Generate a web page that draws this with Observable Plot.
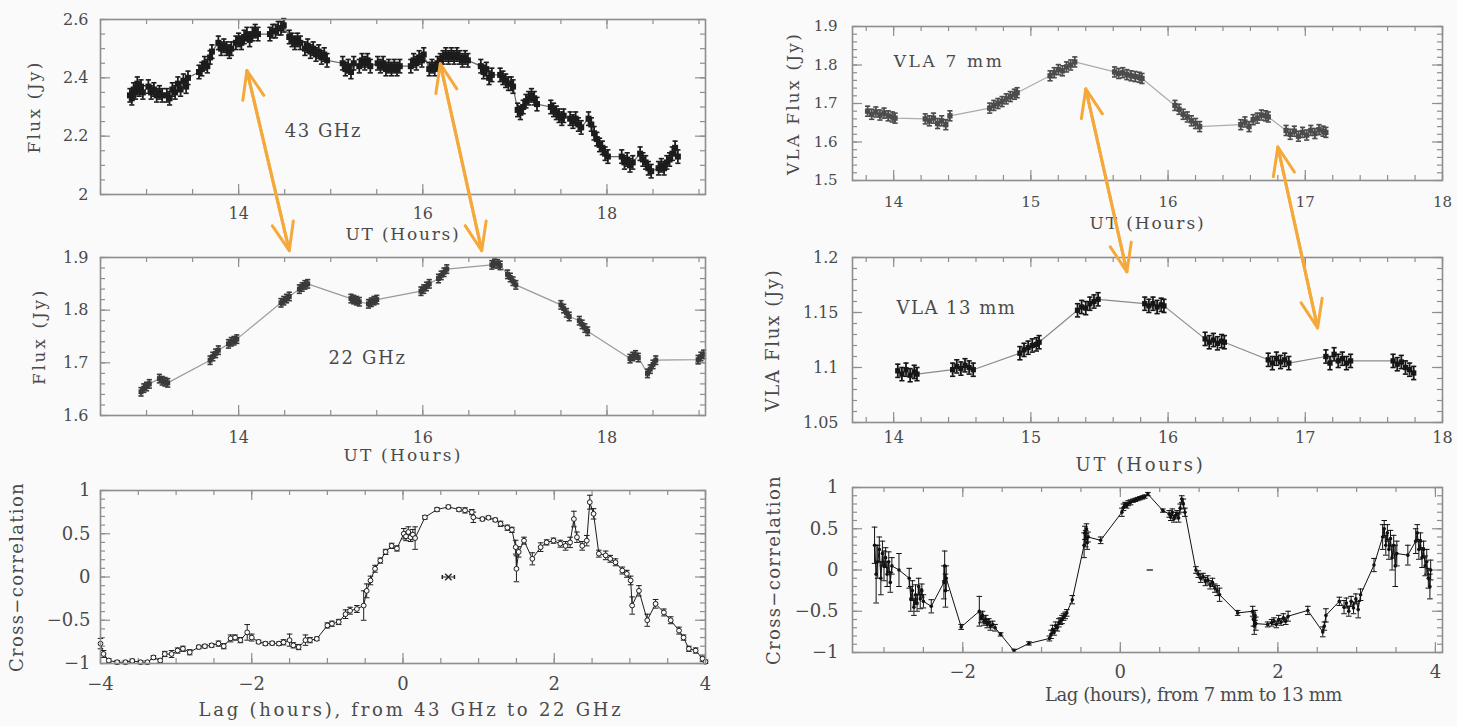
<!DOCTYPE html>
<html><head><meta charset="utf-8">
<script src="https://cdn.jsdelivr.net/npm/d3@7"></script>
<script src="https://cdn.jsdelivr.net/npm/@observablehq/plot@0.6"></script>
<style>
html,body{margin:0;padding:0;background:#fafafa;overflow:hidden;}
#page{position:relative;width:1457px;height:726px;overflow:hidden;background:#fafafa;}
.panel{position:absolute;}
.panel svg{display:block;}
</style></head><body><div id="page"></div>
<script>
// ---------- 43 GHz light curve ----------
const ut43 = [12.82,12.84,12.86,12.88,12.90,12.92,12.94,12.96,
13.02,13.05,13.08,13.11,13.14,13.17,
13.22,13.25,13.28,13.31,13.34,13.37,13.40,13.43,13.45,
13.57,13.60,13.63,13.66,13.69,13.71,
13.78,13.81,13.84,13.87,13.90,13.92,
13.97,14.00,14.03,14.06,14.09,14.12,14.15,14.18,14.21,
14.34,14.37,14.40,14.43,14.46,14.49,
14.55,14.58,14.61,14.64,14.67,
14.72,14.75,14.78,14.81,14.84,14.87,14.90,14.93,14.96,
15.13,15.16,15.19,15.22,15.25,
15.31,15.34,15.37,15.40,15.43,
15.51,15.54,15.57,15.60,15.63,15.66,15.69,15.72,15.75,
15.87,15.90,15.93,15.96,15.99,16.01,
16.07,16.10,16.13,16.16,16.19,16.22,
16.25,16.28,16.31,16.34,16.37,16.40,16.43,16.46,16.49,
16.63,16.66,16.69,16.72,16.75,
16.84,16.87,16.90,16.93,16.96,16.98,
17.03,17.06,17.09,17.12,17.15,17.18,17.21,17.24,
17.39,17.42,17.45,17.48,17.51,17.53,
17.60,17.63,17.66,17.69,17.72,
17.80,17.83,17.86,17.89,17.92,17.95,17.98,18.01,
18.16,18.19,18.22,18.25,18.28,
18.36,18.39,18.42,18.45,18.48,
18.56,18.59,18.62,18.65,18.68,18.71,18.74,18.77];
const flux43 = [2.34,2.33,2.36,2.35,2.38,2.36,2.37,2.35,
2.37,2.35,2.36,2.34,2.35,2.34,
2.34,2.33,2.36,2.35,2.38,2.36,2.39,2.37,2.40,
2.42,2.43,2.45,2.44,2.47,2.49,
2.52,2.50,2.51,2.50,2.49,2.50,
2.52,2.53,2.52,2.54,2.55,2.53,2.55,2.56,2.55,
2.55,2.56,2.56,2.57,2.57,2.58,
2.54,2.53,2.52,2.53,2.52,
2.50,2.51,2.49,2.50,2.48,2.49,2.47,2.48,2.46,
2.45,2.43,2.44,2.42,2.45,
2.44,2.46,2.45,2.46,2.44,
2.45,2.44,2.45,2.43,2.44,2.43,2.44,2.43,2.44,
2.44,2.46,2.45,2.47,2.46,2.48,
2.43,2.44,2.43,2.45,2.46,2.47,
2.48,2.47,2.48,2.47,2.48,2.47,2.46,2.47,2.46,
2.44,2.42,2.43,2.40,2.41,
2.41,2.40,2.39,2.38,2.38,2.37,
2.29,2.28,2.30,2.32,2.33,2.34,2.33,2.31,
2.30,2.29,2.28,2.27,2.26,2.27,
2.26,2.25,2.26,2.24,2.23,
2.26,2.24,2.21,2.19,2.17,2.16,2.14,2.13,
2.13,2.11,2.12,2.10,2.11,
2.14,2.12,2.11,2.09,2.08,
2.09,2.10,2.09,2.11,2.12,2.14,2.16,2.13];
const flux43Err = 0.023;

// ---------- 22 GHz light curve ----------
const ut22 = [12.94,12.97,13.00,13.03, 13.14,13.17,13.20,13.23, 13.69,13.72,13.75,13.78, 13.89,13.92,13.95,13.98,
14.46,14.49,14.52,14.55, 14.66,14.69,14.72,14.75, 15.22,15.25,15.28,15.31, 15.41,15.44,15.47,15.50,
15.98,16.01,16.04,16.07, 16.17,16.20,16.23,16.26, 16.75,16.78,16.81,16.84, 16.92,16.95,16.98,17.01,
17.50,17.53,17.56,17.59, 17.70,17.73,17.76,17.79, 18.25,18.28,18.31,18.34, 18.44,18.47,18.50,18.53,
18.99,19.02,19.05];
const flux22 = [1.645,1.652,1.655,1.660, 1.670,1.666,1.664,1.662, 1.705,1.712,1.718,1.724, 1.736,1.740,1.742,1.745,
1.814,1.818,1.822,1.826, 1.840,1.844,1.848,1.850, 1.822,1.820,1.818,1.816, 1.812,1.815,1.818,1.820,
1.836,1.840,1.845,1.850, 1.860,1.866,1.872,1.878, 1.886,1.889,1.888,1.885, 1.868,1.862,1.855,1.848,
1.810,1.803,1.795,1.788, 1.780,1.773,1.766,1.760, 1.708,1.712,1.715,1.710, 1.680,1.688,1.697,1.705,
1.706,1.712,1.716];
const flux22Err = 0.008;

// ---------- cross-correlation 43 -> 22 GHz ----------
const lag43 = [-4.00,-3.96,-3.89,-3.78,-3.67,-3.58,-3.47,-3.38,-3.30,-3.21,-3.15,-3.06,-2.98,-2.91,-2.82,-2.70,-2.62,-2.53,-2.44,-2.37,-2.28,-2.22,-2.15,-2.06,-2.00,-1.91,-1.82,-1.73,-1.64,-1.58,-1.50,-1.45,-1.38,-1.29,-1.23,-1.14,-1.00,-0.94,-0.85,-0.76,-0.70,-0.61,-0.52,-0.48,-0.43,-0.37,-0.30,-0.23,-0.15,-0.08,0.01,0.04,0.07,0.10,0.13,0.16,0.29,0.45,0.60,0.74,0.82,0.91,0.93,1.05,1.13,1.22,1.29,1.38,1.44,1.49,1.50,1.53,1.60,1.71,1.82,1.90,1.99,2.08,2.15,2.21,2.26,2.30,2.37,2.43,2.47,2.52,2.59,2.68,2.74,2.81,2.90,2.96,3.01,3.03,3.12,3.23,3.34,3.45,3.54,3.65,3.71,3.78,3.87,3.96,4.00];
const cc43 = [-0.77,-0.89,-0.965,-0.985,-0.985,-0.97,-0.985,-0.985,-0.93,-0.965,-0.89,-0.89,-0.85,-0.83,-0.87,-0.81,-0.80,-0.79,-0.77,-0.80,-0.71,-0.70,-0.73,-0.64,-0.70,-0.75,-0.77,-0.765,-0.77,-0.755,-0.73,-0.79,-0.81,-0.73,-0.73,-0.715,-0.56,-0.54,-0.52,-0.43,-0.39,-0.37,-0.33,-0.16,-0.04,0.095,0.19,0.29,0.36,0.33,0.50,0.47,0.52,0.46,0.49,0.45,0.69,0.78,0.81,0.78,0.77,0.75,0.69,0.67,0.685,0.66,0.615,0.57,0.545,0.345,0.095,0.29,0.42,0.21,0.345,0.40,0.42,0.385,0.36,0.40,0.67,0.46,0.36,0.42,0.865,0.73,0.27,0.25,0.21,0.17,0.075,0.037,-0.04,-0.33,-0.16,-0.50,-0.31,-0.41,-0.50,-0.62,-0.70,-0.83,-0.85,-0.945,-0.98];
const cc43Err = [0.06,0.04,0.02,0.02,0.02,0.02,0.02,0.02,0.02,0.02,0.03,0.04,0.03,0.03,0.03,0.02,0.02,0.02,0.03,0.03,0.04,0.03,0.03,0.09,0.04,0.02,0.02,0.02,0.02,0.03,0.07,0.03,0.03,0.06,0.03,0.02,0.03,0.03,0.03,0.05,0.04,0.04,0.17,0.08,0.05,0.04,0.03,0.03,0.03,0.03,0.06,0.05,0.06,0.05,0.06,0.13,0.02,0.02,0.02,0.02,0.03,0.03,0.06,0.02,0.02,0.02,0.03,0.03,0.03,0.08,0.15,0.06,0.04,0.07,0.05,0.03,0.03,0.04,0.05,0.06,0.09,0.06,0.05,0.06,0.08,0.06,0.04,0.05,0.04,0.04,0.04,0.04,0.05,0.10,0.06,0.07,0.05,0.04,0.04,0.04,0.03,0.03,0.03,0.03,0.02];
const starLag = [0.60], starCorr = [0.0], starErr = [0.08];

// ---------- VLA 7 mm ----------
const ut7 = [13.81,13.84,13.87,13.90,13.93,13.96,13.99,14.01, 14.23,14.26,14.29,14.32,14.35,14.38,14.41,
14.70,14.73,14.76,14.79,14.82,14.85,14.88,14.90, 15.14,15.17,15.20,15.23,15.26,15.29,15.32,
15.61,15.64,15.67,15.70,15.73,15.76,15.79,15.81, 16.05,16.08,16.11,16.14,16.17,16.20,16.23,
16.53,16.56,16.59,16.62,16.65,16.68,16.71,16.73, 16.86,16.89,16.92,16.95,16.98,17.01,17.04,17.07,17.10,17.13,17.15];
const flux7 = [1.680,1.672,1.678,1.670,1.675,1.668,1.665,1.662, 1.660,1.655,1.662,1.648,1.655,1.645,1.668,
1.688,1.695,1.700,1.705,1.712,1.718,1.724,1.728, 1.772,1.780,1.788,1.785,1.795,1.800,1.808,
1.782,1.778,1.780,1.775,1.772,1.770,1.768,1.765, 1.695,1.685,1.672,1.665,1.655,1.648,1.640,
1.645,1.652,1.640,1.658,1.662,1.670,1.668,1.665, 1.630,1.620,1.628,1.615,1.625,1.618,1.630,1.622,1.632,1.628,1.625];
const flux7Err = 0.013;

// ---------- VLA 13 mm ----------
const ut13 = [14.03,14.06,14.09,14.12,14.15,14.17, 14.43,14.46,14.49,14.52,14.55,14.58, 14.92,14.95,14.98,15.01,15.04,15.06,
15.34,15.37,15.40,15.43,15.46,15.49, 15.83,15.86,15.89,15.92,15.95,15.97, 16.27,16.30,16.33,16.36,16.39,16.41,
16.73,16.76,16.79,16.82,16.85,16.88, 17.15,17.18,17.21,17.24,17.27,17.30,17.33, 17.64,17.67,17.70,17.73,17.76,17.79];
const flux13 = [1.097,1.094,1.098,1.093,1.096,1.094, 1.098,1.101,1.099,1.102,1.100,1.098, 1.113,1.116,1.118,1.120,1.121,1.123,
1.152,1.155,1.154,1.158,1.160,1.162, 1.158,1.156,1.158,1.155,1.157,1.156, 1.126,1.123,1.125,1.122,1.124,1.123,
1.107,1.104,1.108,1.105,1.107,1.104, 1.110,1.104,1.112,1.106,1.108,1.104,1.106, 1.106,1.103,1.105,1.100,1.098,1.095];
const flux13Err = 0.006;

// ---------- cross-correlation 7 mm -> 13 mm ----------
const lag7 = [-3.12,-3.10,-3.08,-3.06,-3.04,-3.02,-3.00,-2.98,-2.96,-2.94,-2.92,-2.90,
-2.81,
-2.68,-2.66,-2.64,-2.62,-2.60,-2.58,-2.56,-2.54,-2.52,-2.50,
-2.40,
-2.24,-2.23,-2.22,-2.21,
-2.02,
-1.79,-1.77,-1.75,-1.73,-1.71,-1.69,-1.67,-1.65,-1.62,-1.59,
-1.52,-1.35,-1.16,-0.90,
-0.88,-0.86,-0.84,-0.82,-0.80,-0.78,-0.76,-0.74,-0.72,-0.70,-0.68,
-0.61,
-0.46,-0.45,-0.44,-0.43,-0.42,-0.41,
-0.25,
0.02,0.04,0.06,0.08,0.10,0.13,0.16,0.19,0.22,0.25,0.28,0.31,0.35,
0.54,
0.62,0.64,0.66,0.68,0.70,0.72,0.74,0.76,0.78,0.80,0.82,
0.96,0.99,1.02,1.05,1.08,1.11,1.14,1.17,1.20,1.23,1.26,
1.49,
1.68,1.69,1.70,1.71,1.72,
1.87,
1.92,1.95,1.98,2.01,2.04,2.07,2.10,2.13,
2.38,2.57,2.59,2.61,2.78,
2.84,2.87,2.90,2.93,2.96,2.99,3.02,3.05,
3.22,
3.33,3.35,3.37,3.39,3.41,3.43,3.45,3.47,3.49,3.51,
3.65,
3.75,3.77,3.79,3.81,3.83,3.85,3.87,3.89,3.91,3.93,3.94];
const cc7 = [0.30,-0.05,0.10,0.25,-0.10,0.20,0.05,0.15,-0.05,0.10,-0.15,0.05,
0.00,
-0.10,-0.35,-0.25,-0.45,-0.30,-0.40,-0.20,-0.35,-0.25,-0.38,
-0.44,
-0.15,0.05,-0.25,-0.10,
-0.69,
-0.50,-0.58,-0.55,-0.62,-0.60,-0.65,-0.63,-0.68,-0.66,-0.70,
-0.78,-0.98,-0.89,-0.83,
-0.78,-0.72,-0.75,-0.68,-0.70,-0.64,-0.62,-0.60,-0.57,-0.55,-0.52,
-0.36,
0.30,0.45,0.38,0.50,0.33,0.40,
0.36,
0.70,0.76,0.79,0.78,0.81,0.82,0.84,0.85,0.86,0.87,0.88,0.89,0.92,
0.72,
0.68,0.64,0.70,0.62,0.66,0.68,0.63,0.75,0.86,0.80,0.70,
0.00,-0.05,-0.10,-0.08,-0.14,-0.12,-0.18,-0.15,-0.22,-0.25,-0.30,
-0.52,
-0.50,-0.60,-0.68,-0.55,-0.65,
-0.66,
-0.64,-0.62,-0.66,-0.60,-0.63,-0.58,-0.62,-0.56,
-0.49,-0.75,-0.68,-0.55,-0.38,
-0.45,-0.40,-0.50,-0.38,-0.46,-0.35,-0.48,-0.30,
0.06,
0.40,0.50,0.30,0.45,0.25,0.38,0.15,0.30,0.05,0.20,
0.18,
0.35,0.45,0.25,0.35,0.15,0.25,0.05,0.10,-0.10,-0.20,0.00];
const cc7Err = [0.22,0.35,0.20,0.15,0.20,0.15,0.18,0.12,0.15,0.12,0.12,0.10,
0.20,
0.12,0.15,0.12,0.10,0.12,0.10,0.10,0.12,0.08,0.08,
0.08,
0.20,0.18,0.20,0.15,
0.03,
0.18,0.06,0.05,0.05,0.05,0.05,0.04,0.05,0.04,0.04,
0.02,0.02,0.02,0.03,
0.05,0.05,0.04,0.05,0.04,0.05,0.04,0.05,0.04,0.04,0.04,
0.05,
0.15,0.08,0.10,0.06,0.08,0.06,
0.04,
0.05,0.04,0.03,0.03,0.03,0.03,0.02,0.02,0.02,0.02,0.02,0.02,0.02,
0.02,
0.04,0.04,0.04,0.04,0.04,0.04,0.05,0.05,0.04,0.06,0.05,
0.04,0.04,0.05,0.04,0.05,0.05,0.05,0.05,0.05,0.06,0.08,
0.03,
0.06,0.08,0.10,0.06,0.08,
0.03,
0.04,0.04,0.04,0.05,0.04,0.05,0.04,0.06,
0.05,0.06,0.05,0.08,0.05,
0.08,0.06,0.06,0.06,0.07,0.06,0.10,0.07,
0.08,
0.15,0.10,0.12,0.10,0.12,0.10,0.15,0.12,0.25,0.15,
0.12,
0.15,0.10,0.12,0.10,0.12,0.10,0.12,0.15,0.12,0.15,0.12];
const dashLag = [0.38], dashCorr = [0.0], dashErr = [0.04];

// ---------- arrows linking features (data coordinates in each panel) ----------
const arrowFrom = ["p43","p43","p7","p7"];
const arrowFromX = [14.09, 16.19, 15.40, 16.80];
const arrowFromY = [2.425, 2.448, 1.738, 1.587];
const arrowTo = ["p22","p22","p13","p13"];
const arrowToX = [14.55, 16.64, 15.70, 17.09];
const arrowToY = [1.913, 1.913, 1.187, 1.136];

// ---------- rendering ----------
const FONT = "DejaVu Serif";
const frameColor = "#8e8e8e";
const textColor = "#4a4a4a";
const fmt = d => (d < 0 ? "\u2212" : "") + String(Math.abs(d));
const hCap = {draw(ctx, size) { const w = Math.sqrt(size / Math.PI); ctx.moveTo(-w, 0); ctx.lineTo(w, 0); }};
const vCap = {draw(ctx, size) { const w = Math.sqrt(size / Math.PI); ctx.moveTo(0, -w); ctx.lineTo(0, w); }};
const zip = (xs, ys, es) => xs.map((x, i) => ({x, y: ys[i], e: es ? (es[i] ?? 0.03) : 0}));
const range = (a, b, s) => d3.range(Math.round((b - a) / s) + 1).map(i => +(a + i * s).toFixed(4));

function blobMarks(data, err, color, lineColor, r) {
  return [
    Plot.line(data, {x: "x", y: "y", stroke: lineColor, strokeWidth: 1.2}),
    Plot.ruleX(data, {x: "x", y1: d => d.y - err, y2: d => d.y + err, stroke: color, strokeWidth: 1.8}),
    Plot.dot(data, {x: "x", y: d => d.y + err, symbol: hCap, r: 2.6, fill: "none", stroke: color, strokeWidth: 1.6}),
    Plot.dot(data, {x: "x", y: d => d.y - err, symbol: hCap, r: 2.6, fill: "none", stroke: color, strokeWidth: 1.6}),
    Plot.dot(data, {x: "x", y: "y", symbol: "square", r: r, fill: color})
  ];
}
function ccMarks(data, color, open) {
  return [
    Plot.line(data, {x: "x", y: "y", stroke: color, strokeWidth: 1}),
    Plot.ruleX(data, {x: "x", y1: d => d.y - d.e, y2: d => d.y + d.e, stroke: color, strokeWidth: 1}),
    Plot.dot(data, {x: "x", y: d => d.y + d.e, symbol: hCap, r: 2.8, fill: "none", stroke: color, strokeWidth: 1}),
    Plot.dot(data, {x: "x", y: d => d.y - d.e, symbol: hCap, r: 2.8, fill: "none", stroke: color, strokeWidth: 1}),
    open
      ? Plot.dot(data, {x: "x", y: "y", r: 2.4, fill: "#fafafa", stroke: color, strokeWidth: 1})
      : Plot.dot(data, {x: "x", y: "y", r: 1.8, fill: color})
  ];
}

function makePanel(c) {
  const iw = c.width - c.ml - c.mr, ih = c.height - c.mt - c.mb;
  const tk = {stroke: frameColor, strokeWidth: 1.2};
  const M = c.majorLen, m = c.minorLen;
  const marks = [
    Plot.tickX(c.xMinor, {x: d => d, insetTop: ih - m, ...tk}),
    Plot.tickX(c.xMinor, {x: d => d, insetBottom: ih - m, ...tk}),
    Plot.tickX(c.xMajor, {x: d => d, insetTop: ih - M, ...tk}),
    Plot.tickX(c.xMajor, {x: d => d, insetBottom: ih - M, ...tk}),
    Plot.tickY(c.yMinor, {y: d => d, insetRight: iw - m, ...tk}),
    Plot.tickY(c.yMinor, {y: d => d, insetLeft: iw - m, ...tk}),
    Plot.tickY(c.yMajor, {y: d => d, insetRight: iw - M, ...tk}),
    Plot.tickY(c.yMajor, {y: d => d, insetLeft: iw - M, ...tk}),
    ...c.marks,
    Plot.frame({stroke: frameColor, strokeWidth: 1.6}),
    Plot.axisX(c.xLabels, {anchor: "bottom", tickSize: 0, tickPadding: c.xPad, tickFormat: fmt, fontSize: c.tickFs, label: null}),
    Plot.axisY(c.yLabels, {anchor: "left", tickSize: 0, tickPadding: c.yPad, tickFormat: fmt, fontSize: c.tickFs, label: null}),
    Plot.text([c.xTitle], {frameAnchor: "bottom", textAnchor: "middle", dy: c.xTitleDy, dx: c.xTitleDx || 0, text: d => d, fontSize: c.titleFs}),
    Plot.text([c.yTitle], {frameAnchor: "left", textAnchor: "middle", dx: c.yTitleDx, rotate: -90, text: d => d, fontSize: c.titleFs})
  ];
  if (c.inner) marks.push(Plot.text([c.inner], {x: c.innerX, y: c.innerY, text: d => d, fontSize: c.innerFs, textAnchor: c.innerAnchor || "middle"}));
  const svg = Plot.plot({
    width: c.width, height: c.height,
    marginLeft: c.ml, marginRight: c.mr, marginTop: c.mt, marginBottom: c.mb,
    x: {domain: c.xDomain}, y: {domain: c.yDomain},
    style: {fontFamily: FONT, color: textColor, background: "transparent", overflow: "visible"},
    marks
  });
  const div = document.createElement("div");
  div.className = "panel"; div.style.left = c.left + "px"; div.style.top = c.top + "px";
  div.appendChild(svg);
  document.getElementById("page").appendChild(div);
  // spread letters so each title spans the same length as in the reference
  const fit = (str, w) => {
    if (!w) return;
    for (const t of svg.querySelectorAll("text")) if (t.textContent === str) {
      const L = t.getComputedTextLength();
      const n = [...str].length;
      t.style.letterSpacing = ((w - L) / n).toFixed(2) + "px";
    }
  };
  fit(c.xTitle, c.xTitleW); fit(c.yTitle, c.yTitleW); if (c.inner) fit(c.inner, c.innerW);
  return {svg, c};
}

const d43 = zip(ut43, flux43), d22 = zip(ut22, flux22), d7 = zip(ut7, flux7), d13 = zip(ut13, flux13);
const dcc43 = zip(lag43, cc43, cc43Err), dcc7 = zip(lag7, cc7, cc7Err);
const dStar = zip(starLag, starCorr, starErr), dDash = zip(dashLag, dashCorr, dashErr);

const panels = {};
panels.p43 = makePanel({
  left: 0, top: 0, width: 728, height: 250, ml: 100, mr: 23, mt: 19, mb: 56,
  xDomain: [12.5, 19.07], yDomain: [2, 2.6],
  xMajor: [14, 16, 18], xMinor: range(12.5, 19, 0.5), yMajor: [2, 2.2, 2.4, 2.6], yMinor: range(2, 2.6, 0.05),
  xLabels: [14, 16, 18], yLabels: [2, 2.2, 2.4, 2.6], majorLen: 10, minorLen: 5,
  tickFs: 16, xPad: 13, yPad: 12, titleFs: 17,
  xTitle: "UT (Hours)", xTitleDy: 45, xTitleW: 115, yTitle: "Flux (Jy)", yTitleDx: -66, yTitleW: 93,
  inner: "43 GHz", innerX: 14.92, innerY: 2.218, innerFs: 18, innerW: 77,
  marks: blobMarks(d43, flux43Err, "#1c1c1c", "#6a6a6a", 3.4)
});
panels.p22 = makePanel({
  left: 0, top: 245, width: 728, height: 235, ml: 100, mr: 23, mt: 12, mb: 65,
  xDomain: [12.5, 19.07], yDomain: [1.6, 1.9],
  xMajor: [14, 16, 18], xMinor: range(12.5, 19, 0.5), yMajor: [1.6, 1.7, 1.8, 1.9], yMinor: range(1.6, 1.9, 0.02),
  xLabels: [14, 16, 18], yLabels: [1.6, 1.7, 1.8, 1.9], majorLen: 10, minorLen: 5,
  tickFs: 16, xPad: 16, yPad: 12, titleFs: 17,
  xTitle: "UT (Hours)", xTitleDy: 45, xTitleW: 119, yTitle: "Flux (Jy)", yTitleDx: -61, yTitleW: 97,
  inner: "22 GHz", innerX: 15.40, innerY: 1.709, innerFs: 18, innerW: 78,
  marks: blobMarks(d22, flux22Err, "#3a3a3a", "#9a9a9a", 2.8)
});
panels.pcc43 = makePanel({
  left: 0, top: 480, width: 728, height: 246, ml: 100, mr: 23, mt: 10, mb: 63,
  xDomain: [-4, 4], yDomain: [-1, 1],
  xMajor: [-4, -2, 0, 2, 4], xMinor: range(-4, 4, 0.5), yMajor: [-1, -0.5, 0, 0.5, 1], yMinor: range(-1, 1, 0.1),
  xLabels: [-4, -2, 0, 2, 4], yLabels: [-1, -0.5, 0, 0.5, 1], majorLen: 10, minorLen: 5,
  tickFs: 18, xPad: 14, yPad: 10, titleFs: 18,
  xTitle: "Lag (hours), from 43 GHz to 22 GHz", xTitleDy: 52, xTitleDx: 8, xTitleW: 425,
  yTitle: "Cross\u2212correlation", yTitleDx: -83, yTitleW: 190,
  marks: [
    ...ccMarks(dcc43, "#1e1e1e", true),
    Plot.ruleY(dStar, {y: "y", x1: d => d.x - d.e, x2: d => d.x + d.e, stroke: "#222", strokeWidth: 1}),
    Plot.dot(dStar, {x: d => d.x - d.e, y: "y", symbol: vCap, r: 2, fill: "none", stroke: "#222"}),
    Plot.dot(dStar, {x: d => d.x + d.e, y: "y", symbol: vCap, r: 2, fill: "none", stroke: "#222"}),
    Plot.dot(dStar, {x: "x", y: "y", symbol: "times", r: 3, stroke: "#222", strokeWidth: 1.3})
  ]
});
panels.p7 = makePanel({
  left: 728, top: 0, width: 729, height: 245, ml: 124, mr: 15, mt: 26, mb: 65,
  xDomain: [13.7, 18], yDomain: [1.5, 1.9],
  xMajor: [14, 15, 16, 17, 18], xMinor: range(13.8, 18, 0.2), yMajor: [1.5, 1.6, 1.7, 1.8, 1.9], yMinor: range(1.5, 1.9, 0.02),
  xLabels: [14, 15, 16, 17, 18], yLabels: [1.5, 1.6, 1.7, 1.8, 1.9], majorLen: 10, minorLen: 5,
  tickFs: 15, xPad: 16, yPad: 15, titleFs: 17,
  xTitle: "UT (Hours)", xTitleDy: 48, xTitleW: 116, yTitle: "VLA Flux (Jy)", yTitleDx: -59, yTitleW: 143,
  inner: "VLA 7 mm", innerX: 14.0, innerY: 1.808, innerFs: 17, innerW: 111, innerAnchor: "start",
  marks: blobMarks(d7, flux7Err, "#4c4c4c", "#ababab", 3)
});
panels.p13 = makePanel({
  left: 728, top: 245, width: 729, height: 235, ml: 124, mr: 15, mt: 12, mb: 58,
  xDomain: [13.7, 18], yDomain: [1.05, 1.2],
  xMajor: [14, 15, 16, 17, 18], xMinor: range(13.8, 18, 0.2), yMajor: [1.05, 1.1, 1.15, 1.2], yMinor: range(1.05, 1.2, 0.01),
  xLabels: [14, 15, 16, 17, 18], yLabels: [1.05, 1.1, 1.15, 1.2], majorLen: 10, minorLen: 5,
  tickFs: 16, xPad: 9, yPad: 14, titleFs: 18,
  xTitle: "UT (Hours)", xTitleDy: 48, xTitleDx: -7, xTitleW: 130, yTitle: "VLA Flux (Jy)", yTitleDx: -79, yTitleW: 143,
  inner: "VLA 13 mm", innerX: 14.02, innerY: 1.154, innerFs: 18, innerW: 120, innerAnchor: "start",
  marks: blobMarks(d13, flux13Err, "#161616", "#8a8a8a", 3)
});
panels.pcc7 = makePanel({
  left: 728, top: 480, width: 729, height: 246, ml: 124, mr: 15, mt: 7, mb: 74,
  xDomain: [-3.4, 4.09], yDomain: [-1, 1],
  xMajor: [-2, 0, 2, 4], xMinor: range(-3, 4, 0.5), yMajor: [-1, -0.5, 0, 0.5, 1], yMinor: range(-1, 1, 0.1),
  xLabels: [-2, 0, 2, 4], yLabels: [-1, -0.5, 0, 0.5, 1], majorLen: 10, minorLen: 5,
  tickFs: 18, xPad: 13, yPad: 14, titleFs: 18,
  xTitle: "Lag (hours), from 7 mm to 13 mm", xTitleDy: 48, xTitleDx: 46, xTitleW: 297,
  yTitle: "Cross\u2212correlation", yTitleDx: -78, yTitleW: 190,
  marks: [
    ...ccMarks(dcc7, "#111", false),
    Plot.ruleY(dDash, {y: "y", x1: d => d.x - d.e, x2: d => d.x + d.e, stroke: "#333", strokeWidth: 1.5})
  ]
});

// overlay arrows, positioned through each panel's own scales
function toPage(key, x, y) {
  const p = panels[key];
  return [p.c.left + p.svg.scale("x").apply(x), p.c.top + p.svg.scale("y").apply(y)];
}
const arrowPix = [];
arrowFrom.forEach((k, i) => {
  const [ax, ay] = toPage(k, arrowFromX[i], arrowFromY[i]);
  const [bx, by] = toPage(arrowTo[i], arrowToX[i], arrowToY[i]);
  arrowPix.push({x1: ax, y1: ay, x2: bx, y2: by}, {x1: bx, y1: by, x2: ax, y2: ay});
});
const overlay = Plot.plot({
  width: 1457, height: 726, margin: 0,
  x: {type: "identity", axis: null}, y: {type: "identity", axis: null},
  style: {background: "transparent", overflow: "visible"},
  marks: [Plot.arrow(arrowPix, {x1: "x1", y1: "y1", x2: "x2", y2: "y2", stroke: "#f4a93a", strokeWidth: 3, headLength: 15, headAngle: 42})]
});
const od = document.createElement("div");
od.className = "panel"; od.style.left = "0px"; od.style.top = "0px"; od.style.pointerEvents = "none";
od.appendChild(overlay);
document.getElementById("page").appendChild(od);
</script>
</body></html>
